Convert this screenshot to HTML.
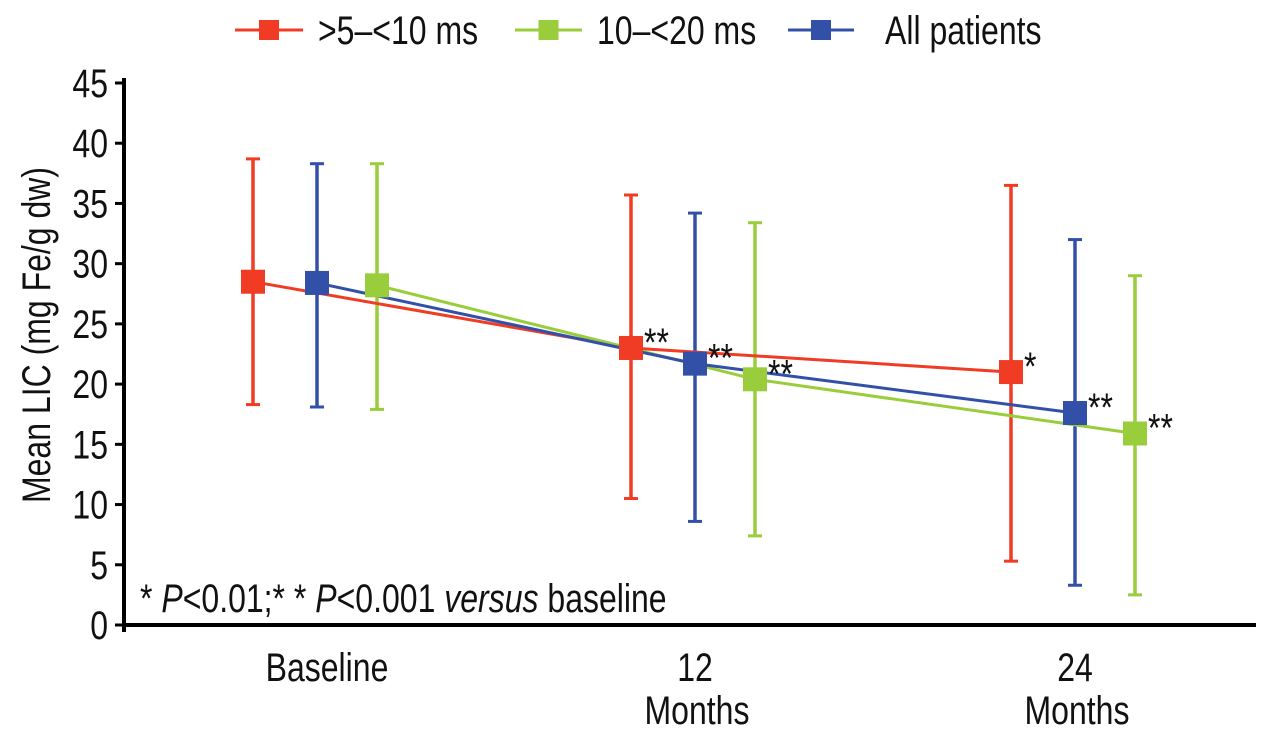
<!DOCTYPE html>
<html><head><meta charset="utf-8"><style>
body{margin:0;background:#fff;}
svg text{font-family:"Liberation Sans",sans-serif;fill:#111;}
</style></head><body>
<svg id="chart" width="1280" height="747" viewBox="0 0 1280 747" xmlns="http://www.w3.org/2000/svg">
<g id="legend"></g>
<g id="axes"></g>
<g id="series"></g>
<text transform="translate(50,335) rotate(-90) scale(0.8,1)" text-anchor="middle" font-size="40">Mean LIC (mg Fe/g dw)</text>
<text transform="translate(140,612) scale(0.8,1)" font-size="40" xml:space="preserve">* <tspan font-style="italic">P</tspan>&lt;0.01;* * <tspan font-style="italic">P</tspan>&lt;0.001 <tspan font-style="italic">versus</tspan> baseline</text>
</svg>
<script>
const categories=["Baseline","12 Months","24 Months"];
const seriesNames=[">5–<10 ms","10–<20 ms","All patients"];
const redMean=[28.5,23.0,21.0];
const redLow=[18.3,10.5,5.3];
const redHigh=[38.7,35.7,36.5];
const greenMean=[28.2,20.4,15.9];
const greenLow=[17.9,7.4,2.5];
const greenHigh=[38.3,33.4,29.0];
const blueMean=[28.4,21.7,17.6];
const blueLow=[18.1,8.6,3.3];
const blueHigh=[38.3,34.2,32.0];
const redSig=["","**","*"];
const greenSig=["","**","**"];
const blueSig=["","**","**"];
const yTicks=[0,5,10,15,20,25,30,35,40,45];

const NS="http://www.w3.org/2000/svg";
function mk(tag,attrs,parent){const e=document.createElementNS(NS,tag);for(const k in attrs)e.setAttribute(k,attrs[k]);parent.appendChild(e);return e;}
function txt(parent,x,y,anchor,str,size){
  const t=mk('text',{transform:'translate('+x+','+y+') scale(0.8,1)','text-anchor':anchor,'font-size':size||40},parent);
  t.textContent=str;return t;
}
const y0=625,yTop=83;
function yScale(v){return y0-(v/45)*(y0-yTop);}
const catCenters=[317,695,1075];
const offsets={red:-64,blue:0,green:60};
function xScale(i,key){return catCenters[i]+offsets[key];}

const axes=document.getElementById('axes');
let e=mk('line',{x1:124,y1:yTop-5,x2:124,y2:632,stroke:'#000','stroke-width':4},axes);

e=mk('line',{x1:122,y1:y0,x2:1256,y2:y0,stroke:'#000','stroke-width':4},axes);

yTicks.forEach(t=>{
  const y=yScale(t);
  let l=mk('line',{x1:115,y1:y,x2:124,y2:y,stroke:'#000','stroke-width':3},axes);
  
  let tx=txt(axes,108,y+14,'end',String(t));
  
});
categories.forEach((c,i)=>{
  const parts=c.split(' ');
  if(parts.length===1){
    let tx=txt(axes,catCenters[i]+10,681,'middle',parts[0]);
    
  } else {
    let tx=txt(axes,catCenters[i],681,'middle',parts[0]);
    
    let tx2=txt(axes,catCenters[i]+2,724,'middle',parts[1]);
    
  }
});

const series=document.getElementById('series');
const defs=[
 {key:'red',color:'#f03c24',mean:redMean,low:redLow,high:redHigh,sig:redSig},
 {key:'green',color:'#9acd3c',mean:greenMean,low:greenLow,high:greenHigh,sig:greenSig},
 {key:'blue',color:'#3350a8',mean:blueMean,low:blueLow,high:blueHigh,sig:blueSig}
];
defs.forEach(s=>{
  s.mean.forEach((m,i)=>{
    const x=xScale(i,s.key);
    const g=mk('g',{},series);
    
    mk('line',{x1:x,y1:yScale(s.low[i]),x2:x,y2:yScale(s.high[i]),stroke:s.color,'stroke-width':3.5},g);
    mk('line',{x1:x-7,y1:yScale(s.low[i]),x2:x+7,y2:yScale(s.low[i]),stroke:s.color,'stroke-width':3},g);
    mk('line',{x1:x-7,y1:yScale(s.high[i]),x2:x+7,y2:yScale(s.high[i]),stroke:s.color,'stroke-width':3},g);
  });
});
defs.forEach(s=>{
  const pts=s.mean.map((m,i)=>xScale(i,s.key)+','+yScale(m)).join(' ');
  const pl=mk('polyline',{points:pts,fill:'none',stroke:s.color,'stroke-width':3},series);
  
});
defs.forEach(s=>{
  s.mean.forEach((m,i)=>{
    const x=xScale(i,s.key),y=yScale(m);
    const r=mk('rect',{x:x-12,y:y-12,width:24,height:24,fill:s.color},series);
    
    if(s.sig[i]){
      const t=txt(series,x+13,y+8,'start',s.sig[i]);
      
    }
  });
});

const legend=document.getElementById('legend');
const legPos=[{x1:235,x2:303,tx:318},{x1:515,x2:582,tx:597},{x1:788,x2:854,tx:885}];
const legColors=['#f03c24','#9acd3c','#3350a8'];
seriesNames.forEach((n,i)=>{
  const g=mk('g',{},legend);
  
  const p=legPos[i];
  mk('line',{x1:p.x1,y1:30,x2:p.x2,y2:30,stroke:legColors[i],'stroke-width':3},g);
  mk('rect',{x:(p.x1+p.x2)/2-10,y:20,width:20,height:20,fill:legColors[i]},g);
  txt(g,p.tx,44,'start',n);
});
</script>
</body></html>
